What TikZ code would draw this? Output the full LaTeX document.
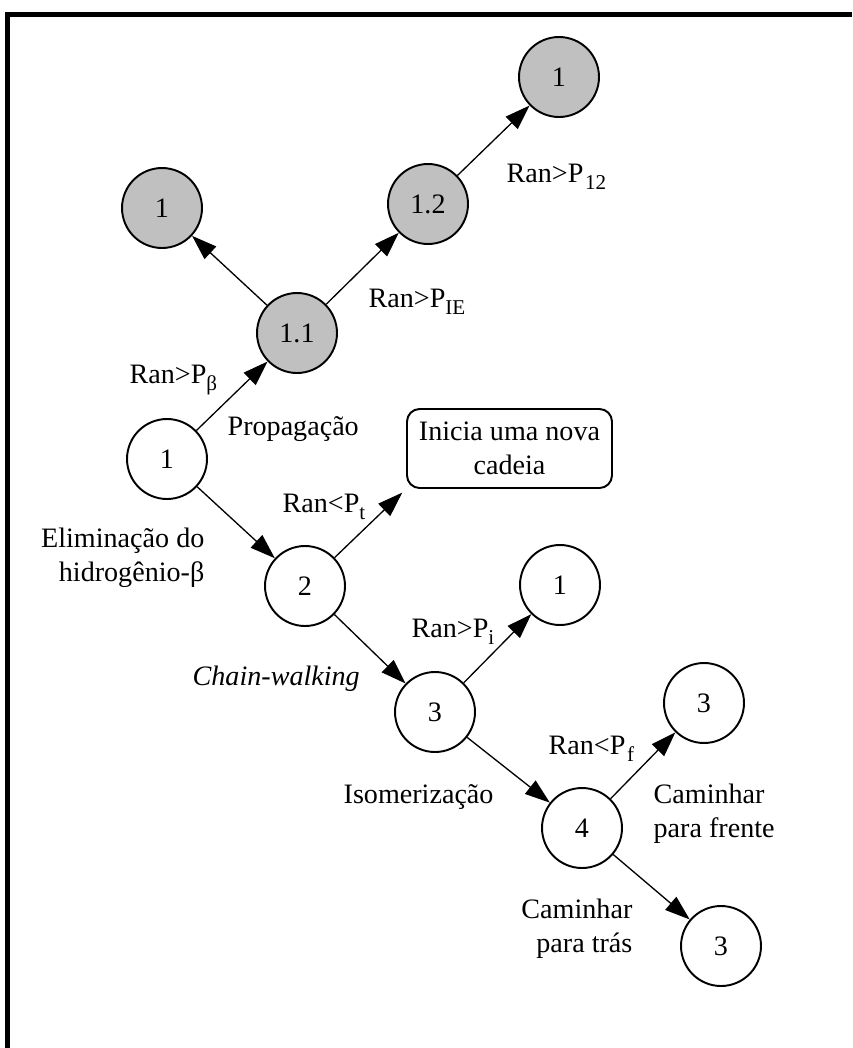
\documentclass[tikz,border=0pt]{standalone}
\usepackage{fontspec}
\setmainfont{Liberation Serif}
\usepackage{xcolor}
\usepackage{tikz}
\usetikzlibrary{arrows.meta}
\definecolor{cinza}{RGB}{192,192,192}
\newcommand{\indice}[1]{\raisebox{-4pt}{\fontsize{12}{12}\selectfont #1}}

\begin{document}
\begin{tikzpicture}[x=0.02cm, y=-0.02cm,
  estado/.style={draw, circle, line width=1.1pt, minimum size=1.6cm, inner sep=0pt, fill=white},
  cinzento/.style={estado, fill=cinza},
  caixa/.style={draw, rectangle, rounded corners=0.25cm, line width=1.1pt, minimum width=4.1cm, minimum height=1.58cm, align=center, inner sep=2pt},
  rotulo/.style={inner sep=0pt, anchor=base west},
  >={Triangle[length=0.5cm, width=0.34cm]}, line width=0.75pt,
  every node/.style={font=\fontsize{16}{19.5}\selectfont}
]
\useasboundingbox (0,0) rectangle (852,1048);
\draw[line width=0.1cm] (7.5,1048) -- (7.5,14.7) -- (852,14.7);

\node[cinzento] (s1topo)   at (559,77)    {1};
\node[cinzento] (s1esq)    at (162,208)   {1};
\node[cinzento] (s12)      at (428,204)   {1.2};
\node[cinzento] (s11)      at (297,333)   {1.1};
\node[estado]   (s1)       at (167,459)   {1};
\node[estado]   (s2)       at (305,586)   {2};
\node[caixa]    (nova)     at (509.5,448.5) {Inicia uma nova\\cadeia};
\node[estado]   (s1dir)    at (560,585)   {1};
\node[estado]   (s3)       at (435,712)   {3};
\node[estado]   (s4)       at (582,828)   {4};
\node[estado]   (s3frente) at (704,703)   {3};
\node[estado]   (s3tras)   at (721,946)   {3};

\node[rotulo] (lbeta)  at (129,383) {Ran>P\indice{β}};
\node[rotulo] (lprop)  at (227,435) {Propagação};
\node[rotulo] (lie)    at (368,307) {Ran>P\indice{IE}};
\node[rotulo] (l12)    at (506,182) {Ran>P\kern1pt\indice{12}};
\node[rotulo] (lt)     at (282,512) {Ran<P\indice{t}};
\node[inner sep=0pt, anchor=east, align=right] (lelim) at (205,558) {Eliminação do\\hidrogênio-β};
\node[rotulo] (li)     at (411,637) {Ran>P\indice{i}};
\node[rotulo] (lchain) at (192,685) {\textit{Chain-walking}};
\node[rotulo] (liso)   at (343,803) {Isomerização};
\node[rotulo] (lf)     at (548,754) {Ran<P\kern1pt\indice{f}};
\node[inner sep=0pt, anchor=west, align=left] (lfrente) at (653,814) {Caminhar\\para frente};
\node[inner sep=0pt, anchor=east, align=right] (ltras)  at (633,929) {Caminhar\\para trás};

\draw[->] (s1) -- (s11);
\draw[->] (s11) -- (s1esq);
\draw[->] (s11) -- (s12);
\draw[->] (s12) -- (s1topo);
\draw[->] (s1) -- (s2);
\draw[->, shorten >=3pt] (s2) -- (nova.south west);
\draw[->] (s2) -- (s3);
\draw[->] (s3) -- (s1dir);
\draw[->] (s3) -- (s4);
\draw[->] (s4) -- (s3frente);
\draw[->] (s4) -- (s3tras);
\end{tikzpicture}
\end{document}
